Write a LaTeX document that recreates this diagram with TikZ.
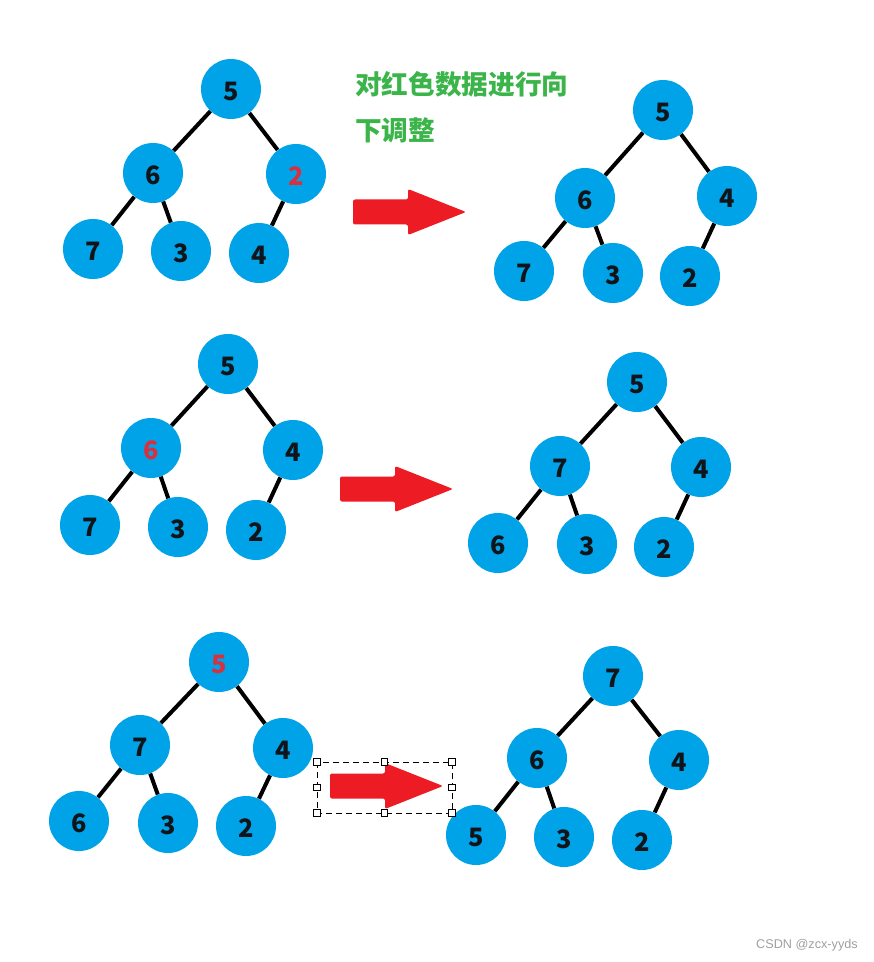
\documentclass[tikz,border=0pt]{standalone}
\usepackage{fontspec}
\usepackage{xcolor}
\usepackage{tikz}
\newfontfamily\cjk{Noto Sans CJK SC}
\newfontfamily\wmfont{Liberation Sans}
\definecolor{ball}{HTML}{00A2E8}
\definecolor{digit}{HTML}{111418}
\definecolor{hot}{HTML}{D9303E}
\definecolor{arrowred}{HTML}{ED1C24}
\definecolor{note}{HTML}{3BB54A}
\definecolor{wm}{HTML}{A0A0A0}
\tikzset{
  key/.style={circle, fill=ball, minimum size=45pt, inner sep=0pt,
    text height=17pt, text depth=0pt,
    text=digit, font=\cjk\bfseries\fontsize{19}{20}\selectfont},
  hotkey/.style={key, text=hot},
  edge/.style={draw=black, line width=3pt},
  arr/.style={fill=arrowred, rounded corners=1.5pt},
  sel/.style={draw=black, line width=0.75pt, dash pattern=on 4.5pt off 3pt},
  grip/.style={draw=black, fill=white, line width=0.75pt, minimum size=5pt, inner sep=0pt},
  note/.style={text=note, font=\cjk\bfseries\fontsize{20}{22}\selectfont, anchor=west, inner sep=0pt}
}

\begin{document}
\begin{tikzpicture}[x=0.75pt, y=-0.75pt]
  \fill[white] (0,0) rectangle (873,962);
  \useasboundingbox (0,0) rectangle (873,962);

  % heap before / after, row 1
  \node[key]    (t1a) at (231,89)  {5};
  \node[key]    (t1b) at (153,173) {6};
  \node[hotkey] (t1c) at (296,174) {2};
  \node[key]    (t1d) at (93,249)  {7};
  \node[key]    (t1e) at (181,251) {3};
  \node[key]    (t1f) at (259,253) {4};

  \node[key] (t2a) at (663,110) {5};
  \node[key] (t2b) at (585,198) {6};
  \node[key] (t2c) at (727,196) {4};
  \node[key] (t2d) at (524,271) {7};
  \node[key] (t2e) at (613,273) {3};
  \node[key] (t2f) at (690,276) {2};

  % row 2
  \node[key]    (t3a) at (228,364) {5};
  \node[hotkey] (t3b) at (151,448) {6};
  \node[key]    (t3c) at (293,450) {4};
  \node[key]    (t3d) at (90,525)  {7};
  \node[key]    (t3e) at (178,527) {3};
  \node[key]    (t3f) at (256,530) {2};

  \node[key] (t4a) at (637,382) {5};
  \node[key] (t4b) at (560,466) {7};
  \node[key] (t4c) at (701,467) {4};
  \node[key] (t4d) at (498,543) {6};
  \node[key] (t4e) at (587,544) {3};
  \node[key] (t4f) at (664,547) {2};

  % row 3
  \node[hotkey] (t5a) at (219,662) {5};
  \node[key]    (t5b) at (140,745) {7};
  \node[key]    (t5c) at (283,748) {4};
  \node[key]    (t5d) at (79,821)  {6};
  \node[key]    (t5e) at (168,823) {3};
  \node[key]    (t5f) at (246,826) {2};

  \node[key] (t6a) at (613,676) {7};
  \node[key] (t6b) at (537,758) {6};
  \node[key] (t6c) at (679,760) {4};
  \node[key] (t6d) at (476,835) {5};
  \node[key] (t6e) at (564,837) {3};
  \node[key] (t6f) at (642,840) {2};

  \foreach \t in {1,...,6}{
    \draw[edge] (t\t a)--(t\t b);
    \draw[edge] (t\t a)--(t\t c);
    \draw[edge] (t\t b)--(t\t d);
    \draw[edge] (t\t b)--(t\t e);
    \draw[edge] (t\t c)--(t\t f);
  }

  % big red arrows
  \foreach \ax/\ay in {353/212, 340/489, 330/786}{
    \fill[arr] (\ax,\ay-12.5) -- ++(55,0) -- ++(0,-10.5) -- (\ax+113,\ay)
      -- (\ax+55,\ay+23) -- ++(0,-10.5) -- (\ax,\ay+12.5) -- cycle;
  }

  % selection frame round the last arrow
  \draw[sel] (317,762) rectangle (452,813);
  \foreach \gx/\gy in {317/762, 384.5/762, 452/762, 317/787.5, 452/787.5, 317/813, 384.5/813, 452/813}{
    \node[grip] at (\gx,\gy) {};
  }

  \node[note] (msg1) at (355,84)  {对红色数据进行向};
  \node[note] (msg2) at (355,130) {下调整};

  \node[text=wm, font=\wmfont\fontsize{9.5}{11}\selectfont, anchor=east, inner sep=0pt]
    (mark) at (858,945) {CSDN @zcx-yyds};
\end{tikzpicture}
\end{document}
